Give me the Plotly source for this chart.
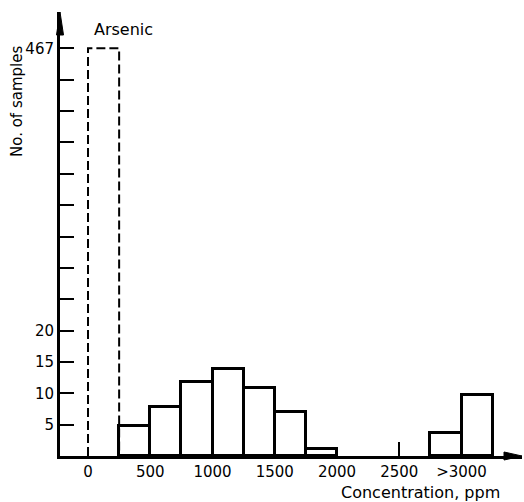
import plotly.graph_objects as go

# Arsenic concentration histogram, 250 ppm bins
BIN_WIDTH = 250
BIN_STARTS = [250, 500, 750, 1000, 1250, 1500, 1750, 2750, 3000]
COUNTS = [4.8, 7.8, 11.8, 13.8, 10.8, 7.0, 1.1, 3.7, 9.7]

# first bin (0-250 ppm) is far off scale and drawn dashed above an axis break
FIRST_BIN_START = 0
FIRST_BIN_COUNT = 467

X_TICK_VALUES = [0, 500, 1000, 1500, 2000, 2500, 3000]
X_TICK_LABELS = ["0", "500", "1000", "1500", "2000", "2500", ">3000"]
X_MARKED_TICKS = [2500]

Y_TICK_VALUES = [5, 10, 15, 20]
Y_TICK_LABELS = ["5", "10", "15", "20"]

# broken y scale: linear to 20, then compressed up to the big bin
BREAK_AT = 20
BREAK_TOP_POS = 65
BREAK_STEP = 5


def ypos(v):
    if v <= BREAK_AT:
        return v
    return BREAK_AT + (v - BREAK_AT) * (BREAK_TOP_POS - BREAK_AT) / (FIRST_BIN_COUNT - BREAK_AT)


upper_ticks = list(range(BREAK_AT + BREAK_STEP, BREAK_TOP_POS, BREAK_STEP))
tickvals = Y_TICK_VALUES + upper_ticks + [ypos(FIRST_BIN_COUNT)]
ticktext = Y_TICK_LABELS + [""] * len(upper_ticks) + [str(FIRST_BIN_COUNT)]

FONT = "DejaVu Sans"

fig = go.Figure()

fig.add_trace(go.Bar(
    x=[s + BIN_WIDTH / 2 for s in BIN_STARTS],
    y=[ypos(c) for c in COUNTS],
    width=BIN_WIDTH,
    base=0,
    marker=dict(color="white", line=dict(color="black", width=3)),
    hoverinfo="skip",
    showlegend=False,
))

top = ypos(FIRST_BIN_COUNT)
fig.add_trace(go.Scatter(
    x=[FIRST_BIN_START, FIRST_BIN_START, FIRST_BIN_START + BIN_WIDTH, FIRST_BIN_START + BIN_WIDTH],
    y=[0, top, top, 0],
    mode="lines",
    line=dict(color="black", width=2, dash="9px,4px"),
    hoverinfo="skip",
    showlegend=False,
    cliponaxis=False,
))

W, H = 524, 502
ML, MR, MT, MB = 60, 2, 12, 46
pw, ph = W - ML - MR, H - MT - MB

# arrowheads at the ends of both axes (paper coordinates)
ax_len, ax_half = 18 / pw, 4 / ph
ay_len, ay_half = 23 / ph, 3.5 / pw
shapes = [
    dict(type="path", xref="paper", yref="paper",
         path=f"M 1 0 L {1 - ax_len} {ax_half} L {1 - ax_len} {-ax_half} Z",
         fillcolor="black", line=dict(color="black", width=1)),
    dict(type="path", xref="paper", yref="paper",
         path=f"M 0 1 L {-ay_half} {1 - ay_len} L {ay_half} {1 - ay_len} Z",
         fillcolor="black", line=dict(color="black", width=1)),
]

annotations = [
    dict(text="Arsenic", xref="paper", yref="paper",
         x=(92 - ML) / pw, y=(H - MB - 29) / ph, xanchor="left", yanchor="middle",
         showarrow=False, font=dict(family=FONT, size=16, color="black")),
    dict(text="No. of samples", xref="paper", yref="paper",
         x=(17 - ML) / pw, y=(H - MB - 102) / ph, xanchor="center", yanchor="middle",
         textangle=-90, showarrow=False, font=dict(family=FONT, size=15, color="black")),
    dict(text="Concentration, ppm", xref="paper", yref="paper",
         x=(420 - ML) / pw, y=(H - MB - 492) / ph, xanchor="center", yanchor="middle",
         showarrow=False, font=dict(family=FONT, size=16, color="black")),
]

fig.update_layout(
    width=W, height=H,
    margin=dict(l=ML, r=MR, t=MT, b=MB),
    paper_bgcolor="white", plot_bgcolor="white",
    bargap=0,
    font=dict(family=FONT, size=15, color="black"),
    shapes=shapes,
    annotations=annotations,
    xaxis=dict(
        range=[-225, 3486], showgrid=False, zeroline=False,
        showline=True, linecolor="black", linewidth=3,
        tickvals=X_TICK_VALUES, ticktext=X_TICK_LABELS, ticks="",
        tickfont=dict(family=FONT, size=15, color="black"),
        minor=dict(tickvals=X_MARKED_TICKS, ticks="inside", ticklen=14,
                   tickwidth=2, tickcolor="black", showgrid=False),
        fixedrange=True,
    ),
    yaxis=dict(
        range=[0, 70.8], showgrid=False, zeroline=False,
        showline=True, linecolor="black", linewidth=3,
        tickvals=tickvals, ticktext=ticktext,
        ticks="inside", ticklen=14, tickwidth=2, tickcolor="black",
        tickfont=dict(family=FONT, size=15, color="black"),
        fixedrange=True,
    ),
)

fig.write_html("out.html")
